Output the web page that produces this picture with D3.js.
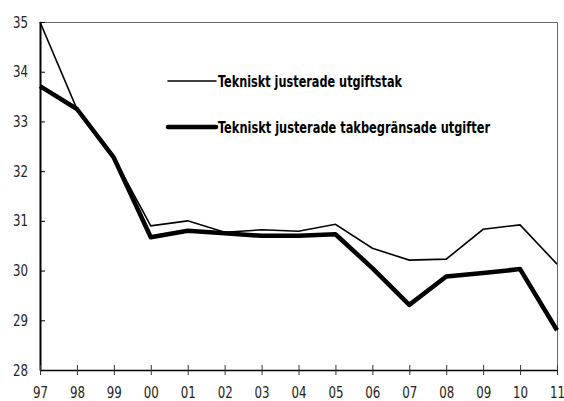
<!doctype html>
<html lang="sv">
<head>
<meta charset="utf-8">
<script src="https://d3js.org/d3.v7.min.js"></script>
<style>
    body { margin:0; background:#fff; }
    text { font-family:"DejaVu Sans Condensed","DejaVu Sans",sans-serif; font-stretch:condensed; }
</style>
</head>
<body>
<script>
// data
var years = ["97","98","99","00","01","02","03","04","05","06","07","08","09","10","11"];
var utgiftstak = [35.0,33.25,32.27,30.90,31.0,30.77,30.82,30.79,30.93,30.45,30.21,30.23,30.83,30.92,30.13];
var takbegr = [33.71,33.25,32.27,30.67,30.80,30.75,30.70,30.70,30.73,30.05,29.31,29.88,29.95,30.03,28.80];
var yTicks = [28,29,30,31,32,33,34,35];

var margin = {top: 22, right: 7, bottom: 31, left: 40},
    width = 564 - margin.left - margin.right,
    height = 401 - margin.top - margin.bottom;

var svg = d3.select("body").append("svg")
    .attr("width", 564)
    .attr("height", 401)
    .append("g")
    .attr("transform", "translate(" + margin.left + "," + margin.top + ")");

var x = d3.scalePoint().domain(years).range([0, width]);
var y = d3.scaleLinear().domain([28, 35]).range([height, 0]);

// frame top & right
svg.append("path")
    .attr("d", "M0,0.5H" + (width + 0.5) + "V" + height)
    .attr("fill", "none").attr("stroke", "#666").attr("stroke-width", 1);

// y axis
var yAxis = svg.append("g")
    .call(d3.axisLeft(y).tickValues(yTicks).tickFormat(d3.format("d"))
        .tickSize(-5).tickPadding(12).tickSizeOuter(0));
yAxis.select(".domain").attr("stroke", "#000").attr("stroke-width", 2);
yAxis.selectAll("text").attr("font-size", 16).attr("fill", "#222")
    .attr("textLength", 15).attr("lengthAdjust", "spacingAndGlyphs");

// x axis
var xAxis = svg.append("g")
    .attr("transform", "translate(0," + height + ")")
    .call(d3.axisBottom(x).tickSize(5).tickPadding(12).tickSizeOuter(0));
xAxis.select(".domain").attr("stroke", "#000").attr("stroke-width", 1.5);
xAxis.selectAll(".tick line").attr("y1", -5).attr("stroke", "#333");
xAxis.selectAll("text").attr("font-size", 16).attr("fill", "#222")
    .attr("textLength", 15).attr("lengthAdjust", "spacingAndGlyphs");

var line = d3.line()
    .x(function(d, i) { return x(years[i]); })
    .y(function(d) { return y(d); });

svg.append("path").datum(utgiftstak)
    .attr("d", line).attr("fill", "none")
    .attr("stroke", "#000").attr("stroke-width", 1.6);

svg.append("path").datum(takbegr)
    .attr("d", line).attr("fill", "none")
    .attr("stroke", "#000").attr("stroke-width", 4.5).attr("stroke-linejoin", "round");

// legend
var legend = [
    {label: "Tekniskt justerade utgiftstak", w: 1.6, y: 59, len: 184},
    {label: "Tekniskt justerade takbegränsade utgifter", w: 4.5, y: 105, len: 272}
];
legend.forEach(function(l) {
    svg.append("line")
        .attr("x1", 128).attr("x2", 176)
        .attr("y1", l.y).attr("y2", l.y)
        .attr("stroke", "#000").attr("stroke-width", l.w).attr("stroke-linecap", "round");
    svg.append("text")
        .attr("x", 178).attr("y", l.y + 5.5)
        .attr("font-size", 15.5).attr("font-weight", "bold")
        .attr("textLength", l.len).attr("lengthAdjust", "spacingAndGlyphs")
        .text(l.label);
});
</script>
</body>
</html>
